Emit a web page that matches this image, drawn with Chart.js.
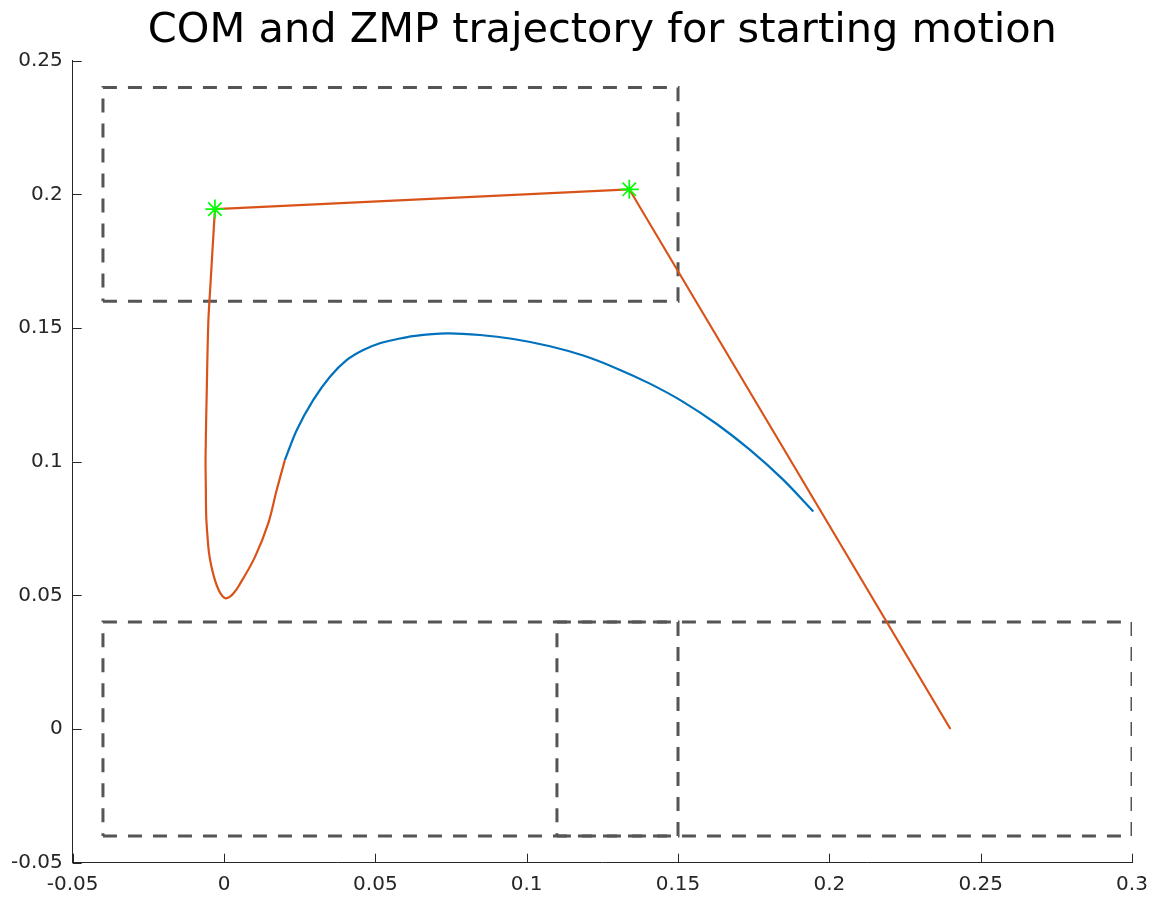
<!DOCTYPE html>
<html>
<head>
<meta charset="utf-8">
<title>COM and ZMP trajectory for starting motion</title>
<script src="https://cdn.jsdelivr.net/npm/chart.js@4.4.1/dist/chart.umd.min.js"></script>
<style>
  html, body { margin: 0; padding: 0; background: #ffffff; }
  #wrap { width: 1155px; height: 898px; }
</style>
</head>
<body>
<div id="wrap"><canvas id="plot"></canvas></div>
<script>
const titleText = 'COM and ZMP trajectory for starting motion';

// Axis ticks
const xTicks = [-0.05, 0, 0.05, 0.1, 0.15, 0.2, 0.25, 0.3];
const xTickLabels = ['-0.05', '0', '0.05', '0.1', '0.15', '0.2', '0.25', '0.3'];
const yTicks = [-0.05, 0, 0.05, 0.1, 0.15, 0.2, 0.25];
const yTickLabels = ['-0.05', '0', '0.05', '0.1', '0.15', '0.2', '0.25'];

// Centre of mass path (m)
const comX = [0.0201, 0.0240, 0.0295, 0.0350, 0.0405, 0.0460, 0.0515, 0.0570, 0.0625,
              0.0736, 0.0846, 0.0956, 0.1077, 0.1187, 0.1297, 0.1407, 0.1517, 0.1628,
              0.1738, 0.1848, 0.1947];
const comY = [0.1006, 0.1118, 0.1231, 0.1318, 0.1380, 0.1418, 0.1443, 0.1458, 0.1470,
              0.1480, 0.1474, 0.1459, 0.1432, 0.1397, 0.1349, 0.1292, 0.1224, 0.1141,
              0.1044, 0.0932, 0.0814];

// ZMP: piecewise-linear shift between supports
const zmpShiftX = [0.2400, 0.1339, -0.0030];
const zmpShiftY = [0.0000, 0.2019, 0.1945];

// ZMP: smooth part down to the start of the COM path
const zmpCurveX = [-0.0030, -0.0046, -0.0052, -0.0057, -0.0061, -0.0060, -0.0059, -0.0055,
                   -0.0050, -0.0042, -0.0030, -0.0017, -0.0005, 0.0006, 0.0020, 0.0033,
                   0.0047, 0.0102, 0.0146, 0.0174, 0.0201];
const zmpCurveY = [0.1945, 0.1642, 0.1519, 0.1268, 0.1017, 0.0894, 0.0800, 0.0726,
                   0.0662, 0.0610, 0.0557, 0.0518, 0.0497, 0.0489, 0.0495, 0.0510,
                   0.0532, 0.0643, 0.0769, 0.0894, 0.1006];

// Switching points
const switchX = [-0.0030, 0.1339];
const switchY = [0.1945, 0.2019];

// Foot support rectangles: [xmin, xmax, ymin, ymax]
const footXMin = [-0.04, -0.04, 0.11];
const footXMax = [0.15, 0.15, 0.30];
const footYMin = [0.16, -0.04, -0.04];
const footYMax = [0.24, 0.04, 0.04];

const AXIS_COLOR = '#262626';
const FONT = 'DejaVu Sans';

function zipPoints(xs, ys) {
  return xs.map((x, i) => ({ x: x, y: ys[i] }));
}

function rectPoints(i) {
  const x0 = footXMin[i], x1 = footXMax[i], y0 = footYMin[i], y1 = footYMax[i];
  return [{ x: x0, y: y0 }, { x: x1, y: y0 }, { x: x1, y: y1 }, { x: x0, y: y1 }, { x: x0, y: y0 }];
}

const datasets = [
  {
    label: 'switch',
    data: zipPoints(switchX, switchY),
    showLine: false,
    pointStyle: 'star',
    pointRadius: 9.5,
    pointBorderWidth: 1.7,
    pointBorderColor: '#00ff00',
    pointBackgroundColor: '#00ff00'
  },
  {
    label: 'ZMP shift',
    data: zipPoints(zmpShiftX, zmpShiftY),
    showLine: true,
    borderColor: '#D95319',
    borderWidth: 2.2,
    tension: 0,
    pointRadius: 0
  },
  {
    label: 'ZMP',
    data: zipPoints(zmpCurveX, zmpCurveY),
    showLine: true,
    borderColor: '#D95319',
    borderWidth: 2.2,
    tension: 0.35,
    pointRadius: 0
  },
  {
    label: 'COM',
    data: zipPoints(comX, comY),
    showLine: true,
    borderColor: '#0072BD',
    borderWidth: 2.2,
    tension: 0.3,
    pointRadius: 0
  }
];

footXMin.forEach((_, i) => {
  datasets.push({
    label: 'foot ' + (i + 1),
    data: rectPoints(i),
    showLine: true,
    borderColor: '#555555',
    borderWidth: 3,
    borderDash: [14, 11],
    borderCapStyle: 'butt',
    tension: 0,
    pointRadius: 0
  });
});

// Tick marks drawn inside the axes
const innerTicks = {
  id: 'innerTicks',
  afterDraw(chart) {
    const { ctx, scales: { x, y } } = chart;
    ctx.save();
    ctx.strokeStyle = AXIS_COLOR;
    ctx.lineWidth = 1;
    ctx.beginPath();
    x.ticks.forEach(t => {
      const px = Math.round(x.getPixelForValue(t.value)) + 0.5;
      ctx.moveTo(px, x.top);
      ctx.lineTo(px, x.top - 9);
    });
    y.ticks.forEach(t => {
      const py = Math.round(y.getPixelForValue(t.value)) + 0.5;
      ctx.moveTo(y.right, py);
      ctx.lineTo(y.right + 9, py);
    });
    ctx.stroke();
    ctx.restore();
  }
};

// Title centred over the plotting area
const plotTitle = {
  id: 'plotTitle',
  afterDraw(chart) {
    const { ctx, chartArea } = chart;
    ctx.save();
    ctx.font = '41.5px "' + FONT + '"';
    ctx.fillStyle = '#000000';
    ctx.textAlign = 'center';
    ctx.textBaseline = 'alphabetic';
    ctx.fillText(titleText, (chartArea.left + chartArea.right) / 2, 42);
    ctx.restore();
  }
};

new Chart(document.getElementById('plot'), {
  type: 'scatter',
  data: { datasets: datasets },
  plugins: [innerTicks, plotTitle],
  options: {
    responsive: true,
    maintainAspectRatio: false,
    animation: false,
    layout: { padding: { left: 0, right: 23, top: 60.7, bottom: 0 } },
    plugins: {
      legend: { display: false },
      tooltip: { enabled: false },
      title: { display: false }
    },
    scales: {
      x: {
        type: 'linear',
        min: -0.05,
        max: 0.3,
        afterBuildTicks: s => { s.ticks = xTicks.map(v => ({ value: v })); },
        afterFit: s => { s.height = 35.3; s.paddingLeft = 0; s.paddingRight = 0; },
        grid: { display: false, drawTicks: false },
        border: { display: true, color: AXIS_COLOR, width: 1 },
        ticks: {
          color: AXIS_COLOR,
          font: { family: FONT, size: 20 },
          padding: 10,
          maxRotation: 0,
          autoSkip: false,
          callback: (v, i) => xTickLabels[i]
        }
      },
      y: {
        type: 'linear',
        min: -0.05,
        max: 0.25,
        afterBuildTicks: s => { s.ticks = yTicks.map(v => ({ value: v })); },
        afterFit: s => { s.width = 72.7; s.paddingTop = 0; s.paddingBottom = 0; },
        grid: { display: false, drawTicks: false },
        border: { display: true, color: AXIS_COLOR, width: 1 },
        ticks: {
          color: AXIS_COLOR,
          font: { family: FONT, size: 20 },
          padding: 10,
          autoSkip: false,
          callback: (v, i) => yTickLabels[i]
        }
      }
    }
  }
});
</script>
</body>
</html>
